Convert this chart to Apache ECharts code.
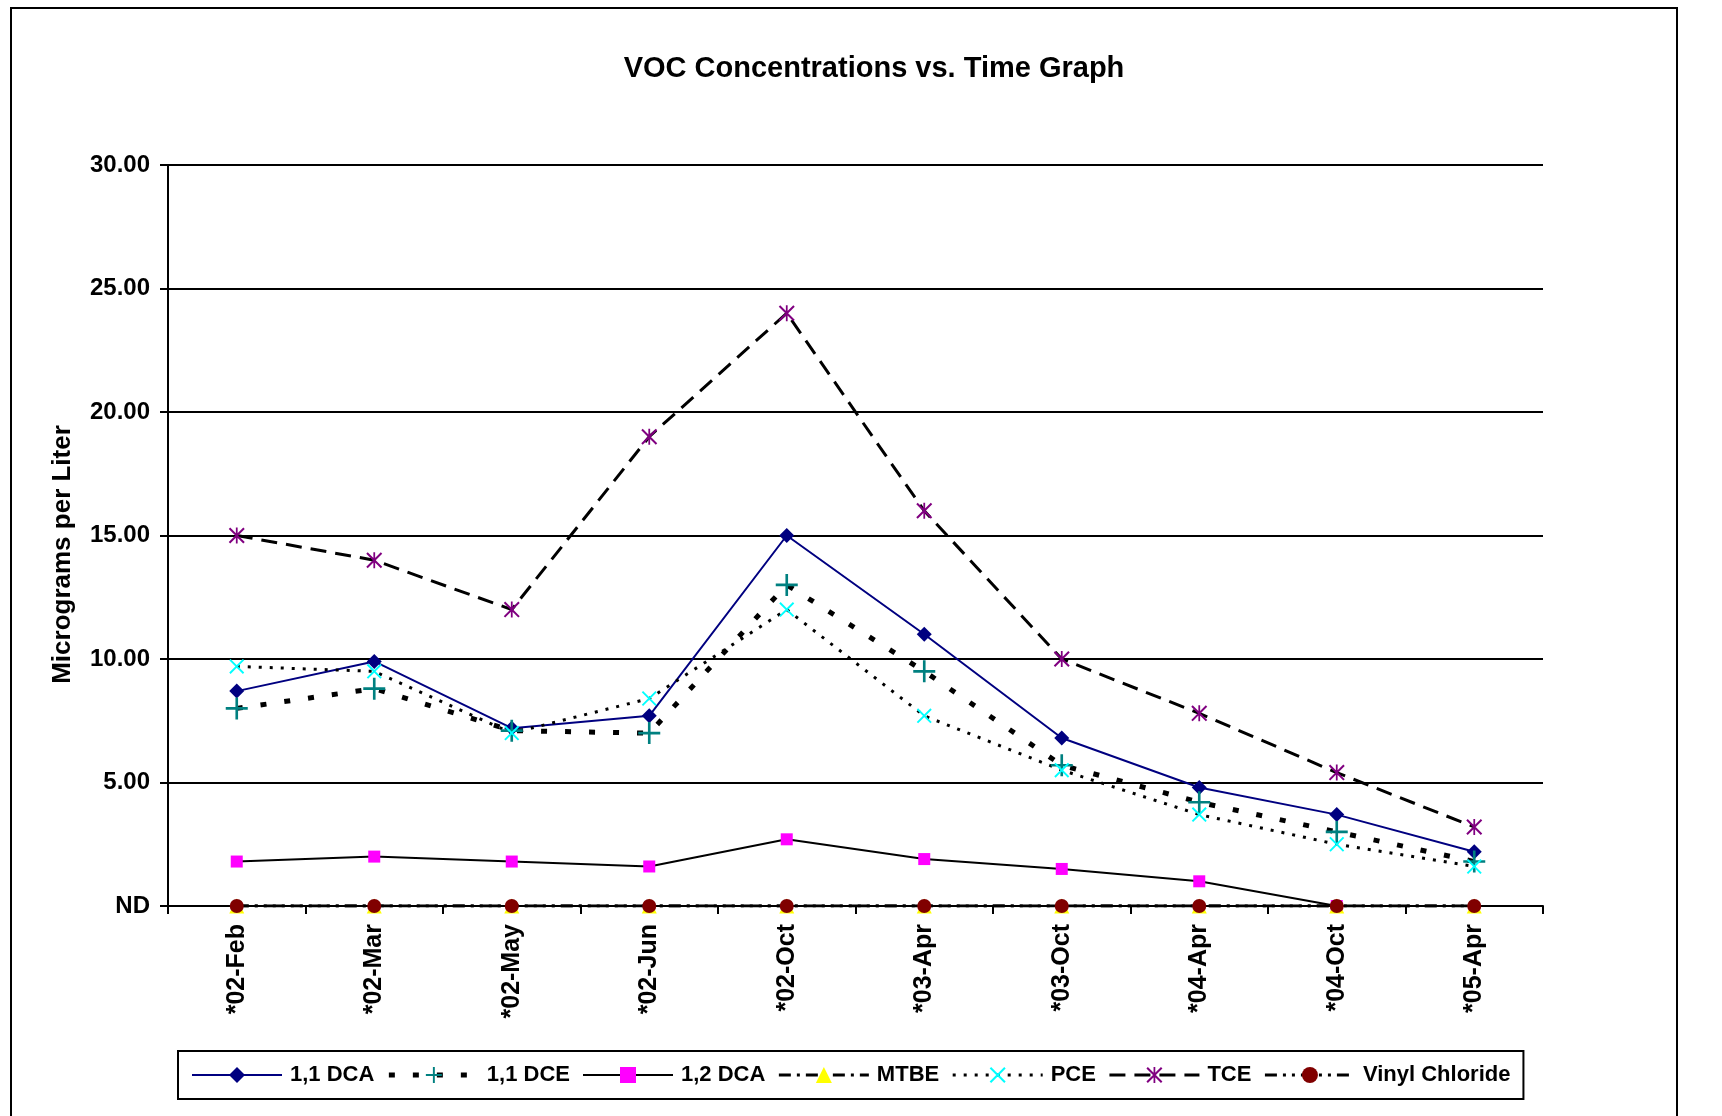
<!DOCTYPE html>
<html>
<head>
<meta charset="utf-8">
<title>VOC Concentrations vs. Time Graph</title>
<script src="https://cdn.jsdelivr.net/npm/echarts@6/dist/echarts.min.js"></script>
<style>
  html, body { margin: 0; padding: 0; background: #fff; overflow: hidden; }
  .frame {
    position: absolute; left: 10px; top: 7px; width: 1668px; height: 1200px;
    border: 2px solid #000; box-sizing: border-box;
  }
  #vocChart { position: absolute; left: 0; top: 0; width: 1722px; height: 1116px; }
</style>
</head>
<body>
<div class="frame"></div>
<div id="vocChart"></div>
<script>
// sampling dates
const sampleDates = ["*02-Feb", "*02-Mar", "*02-May", "*02-Jun", "*02-Oct", "*03-Apr", "*03-Oct", "*04-Apr", "*04-Oct", "*05-Apr"];

// micrograms per liter, ND = 0
const dca11 = [8.7, 9.9, 7.2, 7.7, 15.0, 11.0, 6.8, 4.8, 3.7, 2.2];
const dce11 = [8.0, 8.8, 7.1, 7.0, 13.0, 9.5, 5.7, 4.2, 3.0, 1.8];
const dca12 = [1.8, 2.0, 1.8, 1.6, 2.7, 1.9, 1.5, 1.0, 0, null];
const mtbe = [0, 0, 0, 0, 0, 0, 0, 0, 0, 0];
const pce = [9.7, 9.5, 7.0, 8.4, 12.0, 7.7, 5.5, 3.7, 2.5, 1.6];
const tce = [15.0, 14.0, 12.0, 19.0, 24.0, 16.0, 10.0, 7.8, 5.4, 3.2];
const vinylChloride = [0, 0, 0, 0, 0, 0, 0, 0, 0, 0];

const yTicks = { min: 0, max: 30, step: 5 };

const fontFamily = "'Liberation Sans', Arial, sans-serif";

// marker shapes not built into echarts
const plusPath = "path://M4.4,0H5.6V4.4H10V5.6H5.6V10H4.4V5.6H0V4.4H4.4Z";
const crossPath = "path://M0,0.9L0.9,0L10,9.1L9.1,10Z M9.1,0L10,0.9L0.9,10L0,9.1Z";
const starPath = "path://M0,0.9L0.9,0L10,9.1L9.1,10Z M9.1,0L10,0.9L0.9,10L0,9.1Z M4.45,0H5.55V10H4.45Z";

function makeSeries(name, data, symbol, symbolSize, markerColor, lineColor, lineWidth, lineType) {
  return {
    name: name,
    type: "line",
    data: data,
    symbol: symbol,
    symbolSize: symbolSize,
    showAllSymbol: true,
    connectNulls: false,
    itemStyle: { color: markerColor },
    lineStyle: { color: lineColor, width: lineWidth, type: lineType },
    emphasis: { disabled: true },
    animation: false
  };
}

let myChart = echarts.init(document.getElementById("vocChart"));
let option = {
  backgroundColor: "transparent",
  textStyle: { fontFamily: fontFamily },
  title: {
    text: "VOC Concentrations vs. Time Graph",
    left: 869,
    textAlign: "center",
    top: 49,
    textStyle: { fontSize: 29, fontWeight: "bold", color: "#000", fontFamily: fontFamily }
  },
  legend: {
    left: 178,
    top: 1051,
    padding: [13, 13],
    itemWidth: 90,
    itemHeight: 20,
    itemGap: 12,
    borderColor: "#000",
    borderWidth: 2,
    lineStyle: { width: "inherit" },
    textStyle: { fontSize: 22, fontWeight: "bold", color: "#000", fontFamily: fontFamily, padding: [0, 0, 0, 3] },
    data: ["1,1 DCA", "1,1 DCE", "1,2 DCA", "MTBE", "PCE", "TCE", "Vinyl Chloride"]
  },
  grid: {
    left: 168,
    right: 179,
    top: 165,
    bottom: 210,
    containLabel: false
  },
  xAxis: {
    type: "category",
    data: sampleDates,
    boundaryGap: true,
    axisLine: { lineStyle: { color: "#000", width: 2 } },
    axisTick: { show: true, length: 8, lineStyle: { color: "#000", width: 2 } },
    axisLabel: {
      rotate: 90,
      margin: 18,
      interval: 0,
      color: "#000",
      fontSize: 25,
      fontWeight: "bold",
      fontFamily: fontFamily
    },
    splitLine: { show: false }
  },
  yAxis: {
    type: "value",
    min: yTicks.min,
    max: yTicks.max,
    interval: yTicks.step,
    name: "Micrograms per Liter",
    nameLocation: "middle",
    nameGap: 92,
    nameTextStyle: { fontSize: 26, fontWeight: "bold", color: "#000", fontFamily: fontFamily, padding: [0, 38, 0, 0] },
    axisLine: { show: true, lineStyle: { color: "#000", width: 2 } },
    axisTick: { show: true, length: 8, lineStyle: { color: "#000", width: 2 } },
    axisLabel: {
      margin: 18,
      color: "#000",
      fontSize: 24,
      fontWeight: "bold",
      fontFamily: fontFamily,
      formatter: function (v) {
        return v === 0 ? "ND" : v.toFixed(2);
      }
    },
    splitLine: { show: true, lineStyle: { color: "#000", width: 2 } }
  },
  series: [
    makeSeries("1,1 DCA", dca11, "diamond", 15, "#000080", "#000080", 2, "solid"),
    makeSeries("1,1 DCE", dce11, plusPath, 22, "#008080", "#000", 5, [6, 18]),
    makeSeries("1,2 DCA", dca12, "rect", 12, "#ff00ff", "#000", 2, "solid"),
    makeSeries("MTBE", mtbe, "triangle", 15, "#ffff00", "#000", 3, [12, 6, 3, 6]),
    makeSeries("PCE", pce, crossPath, 15, "#00ffff", "#000", 3, [3, 8]),
    makeSeries("TCE", tce, starPath, 16, "#800080", "#000", 3, [16, 9]),
    makeSeries("Vinyl Chloride", vinylChloride, "circle", 14, "#800000", "#000", 3, [12, 6, 3, 6, 3, 6])
  ]
};
myChart.setOption(option);
window.addEventListener("resize", () => {
  myChart.resize();
});
</script>
</body>
</html>
